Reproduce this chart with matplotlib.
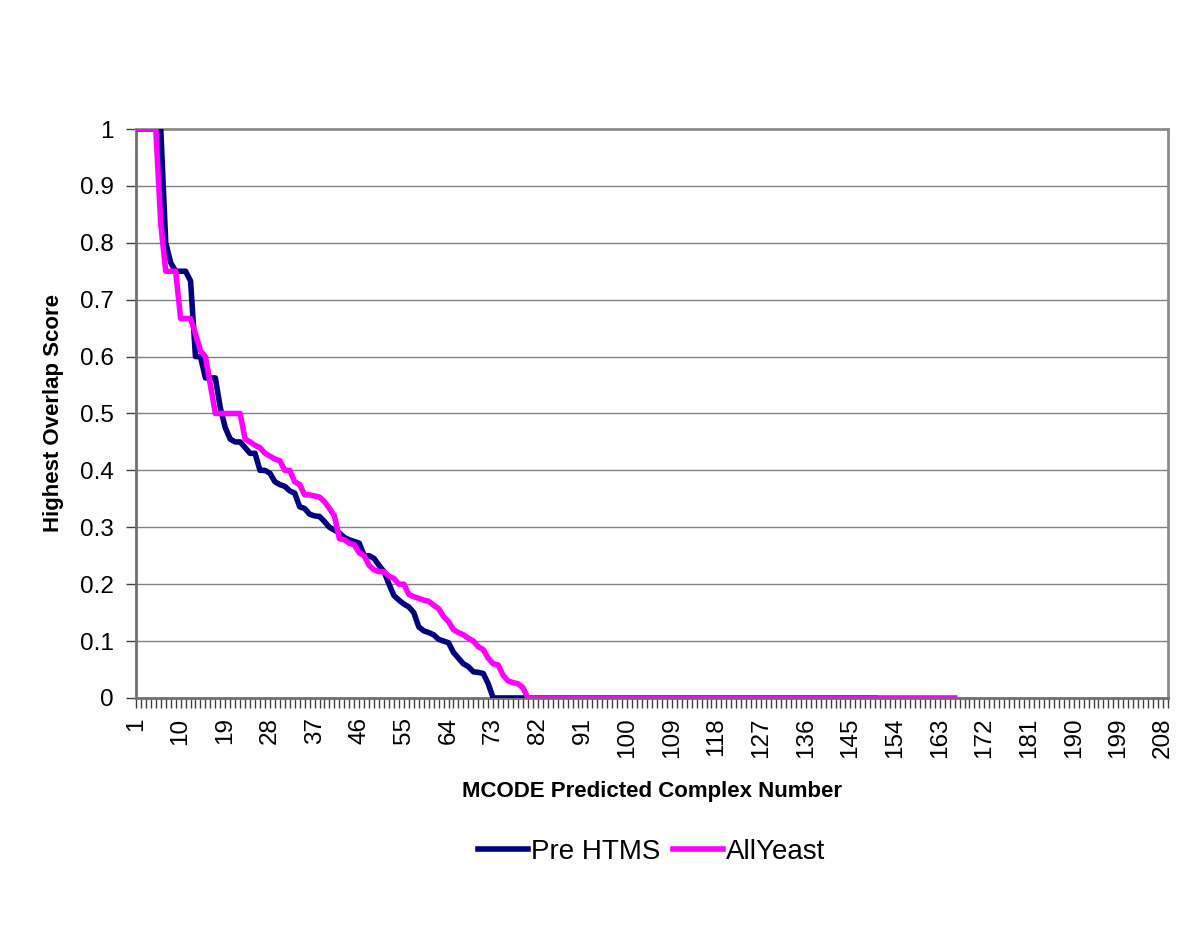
import matplotlib

matplotlib.use("Agg")
import matplotlib.pyplot as plt
import numpy as np

plt.rcParams["font.family"] = ["Liberation Sans", "DejaVu Sans"]

# Values, one per MCODE complex (categories 1..n)
pre_htms_head = [
    1.0, 1.0, 1.0, 1.0, 1.0, 1.0, 0.80, 0.765, 0.75, 0.75,
    0.75, 0.733, 0.60, 0.60, 0.5625, 0.5625, 0.5625, 0.51, 0.475, 0.455,
    0.45, 0.45, 0.44, 0.43, 0.43, 0.40, 0.40, 0.395, 0.38, 0.375,
    0.372, 0.364, 0.36, 0.336, 0.333, 0.323, 0.32, 0.319, 0.31, 0.30,
    0.295, 0.29, 0.282, 0.278, 0.275, 0.272, 0.25, 0.25, 0.245, 0.233,
    0.222, 0.20, 0.18, 0.172, 0.165, 0.16, 0.15, 0.125, 0.118, 0.115,
    0.111, 0.103, 0.10, 0.097, 0.08, 0.07, 0.06, 0.055, 0.046, 0.045,
    0.043, 0.025, 0.0,
]
pre_htms_count = 150

all_yeast_head = [
    1.0, 1.0, 1.0, 1.0, 1.0, 0.833, 0.75, 0.75, 0.75, 0.667,
    0.667, 0.667, 0.64, 0.61, 0.60, 0.55, 0.50, 0.50, 0.50, 0.50,
    0.50, 0.50, 0.455, 0.45, 0.444, 0.44, 0.43, 0.425, 0.42, 0.417,
    0.40, 0.40, 0.38, 0.375, 0.357, 0.357, 0.355, 0.353, 0.345, 0.333,
    0.32, 0.28, 0.278, 0.272, 0.269, 0.255, 0.25, 0.233, 0.225, 0.222,
    0.222, 0.214, 0.21, 0.20, 0.20, 0.182, 0.178, 0.175, 0.172, 0.17,
    0.163, 0.157, 0.143, 0.134, 0.12, 0.115, 0.111, 0.105, 0.10, 0.09,
    0.085, 0.07, 0.06, 0.058, 0.04, 0.03, 0.027, 0.025, 0.018, 0.0,
]
all_yeast_count = 166

n_categories = 209
y_ticks = [0, 0.1, 0.2, 0.3, 0.4, 0.5, 0.6, 0.7, 0.8, 0.9, 1]

pre_htms = pre_htms_head + [0.0] * (pre_htms_count - len(pre_htms_head))
all_yeast = all_yeast_head + [0.0] * (all_yeast_count - len(all_yeast_head))

fig = plt.figure(figsize=(12, 9.5), dpi=100, facecolor="white")
ax = fig.add_axes([0.1133, 0.2653, 0.86, 0.5989])

ax.plot(np.arange(1, len(pre_htms) + 1), pre_htms, color="#000080", lw=4.0,
        solid_joinstyle="round", label="Pre HTMS", zorder=3)
ax.plot(np.arange(1, len(all_yeast) + 1), all_yeast, color="#FF00FF", lw=4.0,
        solid_joinstyle="round", label="AllYeast", zorder=4)

ax.set_xlim(1, n_categories)
ax.set_ylim(0, 1)

# every category gets a tick, every 9th a label
cats = np.arange(1, n_categories + 1)
ax.set_xticks(cats)
ax.set_xticklabels([str(c) if (c - 1) % 9 == 0 else "" for c in cats],
                   rotation=90, fontsize=17.5)
ax.set_yticks(y_ticks)
ax.set_yticklabels([f"{v:g}" for v in y_ticks], fontsize=17.5)
ax.tick_params(axis="both", direction="out", length=7, width=1, color="#404040")
ax.tick_params(axis="y", pad=9)
ax.tick_params(axis="x", pad=7)

ax.grid(axis="y", color="#808080", lw=1)
ax.set_axisbelow(True)
for side in ["top", "right"]:
    ax.spines[side].set_color("#8c8c8c")
    ax.spines[side].set_linewidth(2)
for side in ["left", "bottom"]:
    ax.spines[side].set_color("#707070")
    ax.spines[side].set_linewidth(2)

ax.set_ylabel("Highest Overlap Score", fontsize=16, fontweight="bold")
ax.yaxis.set_label_coords(-0.07, 0.5)
ax.set_xlabel("MCODE Predicted Complex Number", fontsize=16, fontweight="bold")
ax.xaxis.set_label_coords(0.5, -0.146)

handles, labels = ax.get_legend_handles_labels()
fig.legend(handles, labels, loc="center", bbox_to_anchor=(0.543, 0.103), ncol=2,
           frameon=False, fontsize=20, handlelength=1.8, handletextpad=0.1,
           columnspacing=0.45)

fig.savefig("out.png", dpi=100, facecolor="white")
